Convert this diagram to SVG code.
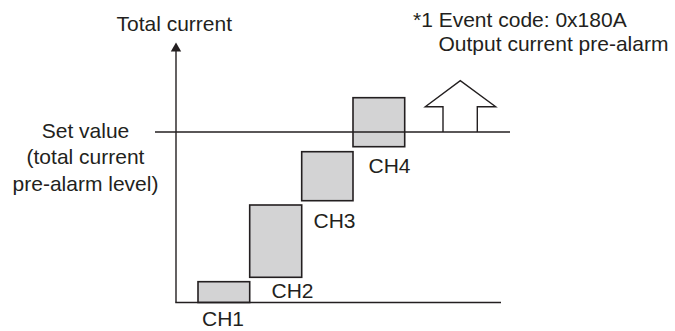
<svg xmlns="http://www.w3.org/2000/svg" width="675" height="331" viewBox="0 0 675 331">
  <style>
    text { font-family: "Liberation Sans", Arial, sans-serif; font-size: 21px; fill: #231f20; }
    .bar { fill: #d3d3d4; stroke: #231f20; stroke-width: 1.6; }
    .ln { stroke: #231f20; stroke-width: 1.4; fill: none; }
  </style>
  <rect width="675" height="331" fill="#ffffff"/>
  <g id="bar-ch1">
    <rect class="bar" x="198" y="281.7" width="51.7" height="20.8"/>
    <text x="202" y="326.3">CH1</text>
  </g>
  <g id="bar-ch2">
    <rect class="bar" x="249.7" y="205" width="52" height="72.3"/>
    <text x="271.5" y="298.3">CH2</text>
  </g>
  <g id="bar-ch3">
    <rect class="bar" x="301.7" y="151.7" width="51.3" height="49"/>
    <text x="313.5" y="227.5">CH3</text>
  </g>
  <g id="bar-ch4">
    <rect class="bar" x="353" y="97.7" width="51.7" height="49"/>
    <text x="368.5" y="173.3">CH4</text>
  </g>
  <g id="connectors">
    <line class="ln" x1="176" y1="50" x2="176" y2="302.5"/>
    <polygon points="176,42.5 170.8,51.5 181.2,51.5" fill="#231f20"/>
    <line class="ln" x1="175.3" y1="302.5" x2="501" y2="302.5"/>
    <line class="ln" x1="155" y1="132" x2="510" y2="132"/>
  </g>
  <g id="alarm-arrow">
    <polyline class="ln" points="443,132 443,106.7 425.3,106.7 460.3,80.7 495.7,106.7 477.3,106.7 477.3,132" fill="#ffffff"/>
  </g>
  <g id="label-total-current">
    <text x="116.5" y="30.5">Total current</text>
  </g>
  <g id="label-event">
    <text x="413" y="27">*1 Event code: 0x180A</text>
    <text x="438.5" y="51">Output current pre-alarm</text>
  </g>
  <g id="label-set-value">
    <text x="85.5" y="137.7" text-anchor="middle">Set value</text>
    <text x="85.5" y="164.3" text-anchor="middle">(total current</text>
    <text x="85.5" y="191" text-anchor="middle">pre-alarm level)</text>
  </g>
</svg>
